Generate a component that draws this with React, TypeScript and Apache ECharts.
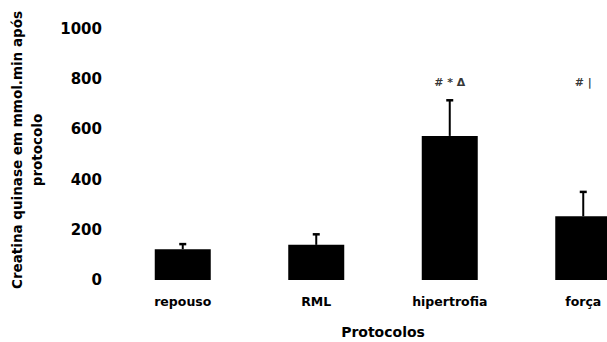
import React, { useEffect, useRef } from "react";
import * as echarts from "echarts";

const categories = ["repouso", "RML", "hipertrofia", "força"];
const meanValues = [123, 140, 574, 254];
const errorValues = [20, 42, 142, 97];
const annotations = ["", "", "# * Δ", "# |"];
const annotationLevel = 785;
const yTicks = { min: 0, max: 1000, interval: 200 };

const FONT = "DejaVu Sans";

export default function App() {
  const ref = useRef<HTMLDivElement>(null);
  useEffect(() => {
    document.body.style.margin = "0";
    if (!ref.current) return;
    const chart = echarts.init(ref.current, null, { renderer: "svg" });
    const errData = meanValues.map((v, i) => [i, v, v + errorValues[i]]);
    const annData = annotations
      .map((t, i) => ({ value: [i, annotationLevel], label: t }))
      .filter((d) => d.label !== "");
    chart.setOption({
      animation: false,
      backgroundColor: "#ffffff",
      grid: {
        left: 116,
        top: 29,
        height: 251,
        width: 534,
        outerBoundsMode: "none",
        containLabel: false,
      },
      xAxis: {
        type: "category",
        data: categories,
        axisLine: { show: false },
        axisTick: { show: false },
        axisLabel: {
          color: "#000",
          fontFamily: FONT,
          fontWeight: "bold",
          fontSize: 12.5,
          margin: 15,
        },
        name: "Protocolos",
        nameLocation: "middle",
        nameGap: 45,
        nameTextStyle: {
          color: "#000",
          fontFamily: FONT,
          fontWeight: "bold",
          fontSize: 14,
        },
      },
      yAxis: {
        type: "value",
        min: yTicks.min,
        max: yTicks.max,
        interval: yTicks.interval,
        axisLine: { show: false },
        axisTick: { show: false },
        splitLine: { show: false },
        axisLabel: {
          color: "#000",
          fontFamily: FONT,
          fontWeight: "bold",
          fontSize: 15,
          margin: 14,
          formatter: (v: number) => String(v),
        },
      },
      graphic: [
        {
          type: "text",
          x: 17,
          y: 150,
          rotation: Math.PI / 2,
          style: {
            text: "Creatina quinase em mmol.min após",
            fontFamily: FONT,
            fontWeight: "bold",
            fontSize: 13.5,
            fill: "#000",
            textAlign: "center",
            textVerticalAlign: "middle",
          },
        },
        {
          type: "text",
          x: 37,
          y: 150,
          rotation: Math.PI / 2,
          style: {
            text: "protocolo",
            fontFamily: FONT,
            fontWeight: "bold",
            fontSize: 13.5,
            fill: "#000",
            textAlign: "center",
            textVerticalAlign: "middle",
          },
        },
      ],
      series: [
        {
          type: "bar",
          data: meanValues,
          barWidth: 56,
          itemStyle: { color: "#000" },
        },
        {
          type: "custom",
          data: errData,
          z: 5,
          renderItem: (params: any, api: any) => {
            const x = api.value(0);
            const lo = api.coord([x, api.value(1)]);
            const hi = api.coord([x, api.value(2)]);
            const capW = 3.5;
            return {
              type: "group",
              children: [
                {
                  type: "line",
                  shape: { x1: hi[0], y1: hi[1], x2: lo[0], y2: lo[1] },
                  style: { stroke: "#000", lineWidth: 2 },
                },
                {
                  type: "line",
                  shape: { x1: hi[0] - capW, y1: hi[1], x2: hi[0] + capW, y2: hi[1] },
                  style: { stroke: "#000", lineWidth: 2.5 },
                },
              ],
            };
          },
        },
        {
          type: "scatter",
          data: annData.map((d) => d.value),
          symbolSize: 0,
          itemStyle: { color: "#000" },
          label: {
            show: true,
            position: "inside",
            formatter: (p: any) => annData[p.dataIndex].label,
            color: "#000",
            textBorderWidth: 0,
            fontFamily: FONT,
            fontWeight: "bold",
            fontSize: 11,
          },
        },
      ],
    });
    return () => chart.dispose();
  }, []);
  return <div ref={ref} style={{ width: 607, height: 342 }} />;
}
